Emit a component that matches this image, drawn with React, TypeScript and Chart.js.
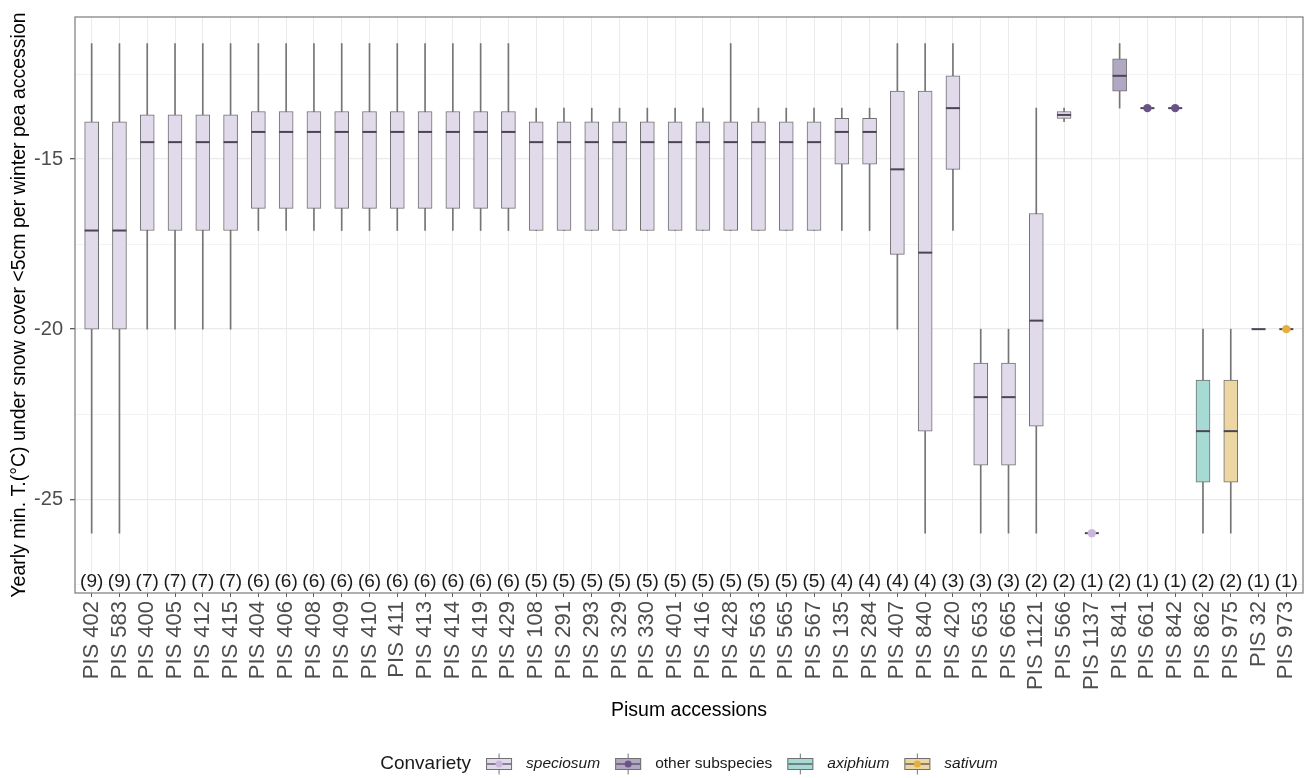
import React, { useEffect, useRef } from 'react';
import { Chart, registerables } from 'chart.js';

Chart.register(...registerables);

const FONT = "'Liberation Sans', Arial, Helvetica, sans-serif";

const accessions = [
  'PIS 402', 'PIS 583', 'PIS 400', 'PIS 405', 'PIS 412', 'PIS 415', 'PIS 404', 'PIS 406', 'PIS 408', 'PIS 409',
  'PIS 410', 'PIS 411', 'PIS 413', 'PIS 414', 'PIS 419', 'PIS 429', 'PIS 108', 'PIS 291', 'PIS 293', 'PIS 329',
  'PIS 330', 'PIS 401', 'PIS 416', 'PIS 428', 'PIS 563', 'PIS 565', 'PIS 567', 'PIS 135', 'PIS 284', 'PIS 407',
  'PIS 840', 'PIS 420', 'PIS 653', 'PIS 665', 'PIS 1121', 'PIS 566', 'PIS 1137', 'PIS 841', 'PIS 661', 'PIS 842',
  'PIS 862', 'PIS 975', 'PIS 32', 'PIS 973',
];

const counts = [
  9, 9, 7, 7, 7, 7, 6, 6, 6, 6,
  6, 6, 6, 6, 6, 6, 5, 5, 5, 5,
  5, 5, 5, 5, 5, 5, 5, 4, 4, 4,
  4, 3, 3, 3, 2, 2, 1, 2, 1, 1,
  2, 2, 1, 1,
];

const convariety = [
  'speciosum', 'speciosum', 'speciosum', 'speciosum', 'speciosum', 'speciosum', 'speciosum', 'speciosum', 'speciosum', 'speciosum',
  'speciosum', 'speciosum', 'speciosum', 'speciosum', 'speciosum', 'speciosum', 'speciosum', 'speciosum', 'speciosum', 'speciosum',
  'speciosum', 'speciosum', 'speciosum', 'speciosum', 'speciosum', 'speciosum', 'speciosum', 'speciosum', 'speciosum', 'speciosum',
  'speciosum', 'speciosum', 'speciosum', 'speciosum', 'speciosum', 'speciosum', 'speciosum', 'other', 'other', 'other',
  'axiphium', 'sativum', 'axiphium', 'sativum',
];

const whiskerLow = [
  -26, -26, -20, -20, -20, -20, -17.1, -17.1, -17.1, -17.1,
  -17.1, -17.1, -17.1, -17.1, -17.1, -17.1, -17.1, -17.1, -17.1, -17.1,
  -17.1, -17.1, -17.1, -17.1, -17.1, -17.1, -17.1, -17.1, -17.1, -20,
  -26, -17.1, -26, -26, -26, -13.9, -26, -13.5, -13.5, -13.5,
  -26, -26, -20, -20,
];

const q1 = [
  -20, -20, -17.1, -17.1, -17.1, -17.1, -16.45, -16.45, -16.45, -16.45,
  -16.45, -16.45, -16.45, -16.45, -16.45, -16.45, -17.1, -17.1, -17.1, -17.1,
  -17.1, -17.1, -17.1, -17.1, -17.1, -17.1, -17.1, -15.15, -15.15, -17.8,
  -23, -15.3, -24, -24, -22.85, -13.8, -26, -13.0, -13.5, -13.5,
  -24.5, -24.5, -20, -20,
];

const median = [
  -17.1, -17.1, -14.5, -14.5, -14.5, -14.5, -14.2, -14.2, -14.2, -14.2,
  -14.2, -14.2, -14.2, -14.2, -14.2, -14.2, -14.5, -14.5, -14.5, -14.5,
  -14.5, -14.5, -14.5, -14.5, -14.5, -14.5, -14.5, -14.2, -14.2, -15.3,
  -17.75, -13.5, -22, -22, -19.75, -13.7, -26, -12.55, -13.5, -13.5,
  -23, -23, -20, -20,
];

const q3 = [
  -13.9, -13.9, -13.7, -13.7, -13.7, -13.7, -13.6, -13.6, -13.6, -13.6,
  -13.6, -13.6, -13.6, -13.6, -13.6, -13.6, -13.9, -13.9, -13.9, -13.9,
  -13.9, -13.9, -13.9, -13.9, -13.9, -13.9, -13.9, -13.8, -13.8, -13.0,
  -13.0, -12.55, -21, -21, -16.6, -13.6, -26, -12.05, -13.5, -13.5,
  -21.5, -21.5, -20, -20,
];

const whiskerHigh = [
  -11.6, -11.6, -11.6, -11.6, -11.6, -11.6, -11.6, -11.6, -11.6, -11.6,
  -11.6, -11.6, -11.6, -11.6, -11.6, -11.6, -13.5, -13.5, -13.5, -13.5,
  -13.5, -13.5, -13.5, -11.6, -13.5, -13.5, -13.5, -13.5, -13.5, -11.6,
  -11.6, -11.6, -20, -20, -13.5, -13.5, -26, -11.6, -13.5, -13.5,
  -20, -20, -20, -20,
];

const yTicks = [-27.5, -25, -22.5, -20, -17.5, -15, -12.5];
const yMin = -27.76;
const yMax = -10.82;

const legendGroups = ['speciosum', 'other', 'axiphium', 'sativum'];
const legendLabels = ['speciosum', 'other subspecies', 'axiphium', 'sativum'];
const legendItalic = [true, false, true, true];

const groupFill: Record<string, string> = {
  speciosum: '#E0DAEA',
  other: '#B3A8C3',
  axiphium: '#A5DBD3',
  sativum: '#ECD6A4',
};
const groupDot: Record<string, string | null> = {
  speciosum: '#C9B7DE',
  other: '#6A5487',
  axiphium: null,
  sativum: '#E3B03C',
};

const BOX_BORDER = '#707070';
const WHISKER = '#757575';
const MEDIAN = '#4C4456';

const panelPlugin = {
  id: 'panelExtras',
  afterDatasetsDraw(chart: any) {
    const { ctx, chartArea } = chart;
    const xs = chart.scales.x;
    ctx.save();
    // count labels
    ctx.font = `19px ${FONT}`;
    ctx.fillStyle = '#1A1A1A';
    ctx.textAlign = 'center';
    ctx.textBaseline = 'middle';
    counts.forEach((n, i) => {
      ctx.fillText(`(${n})`, xs.getPixelForValue(i), 582);
    });
    // panel border
    ctx.strokeStyle = '#7A7A7A';
    ctx.lineWidth = 1.2;
    ctx.strokeRect(chartArea.left, chartArea.top, chartArea.right - chartArea.left, chartArea.bottom - chartArea.top);
    ctx.restore();
  },
  afterDraw(chart: any) {
    const { ctx, chartArea } = chart;
    const cx = (chartArea.left + chartArea.right) / 2;
    const cy = 764;
    ctx.save();
    const titleFont = `19px ${FONT}`;
    const itemFont = (k: number) => `${legendItalic[k] ? 'italic ' : ''}15.5px ${FONT}`;
    const keyW = 26;
    const gapKT = 14;
    const gapTK = 15;
    ctx.font = titleFont;
    const tw = ctx.measureText('Convariety').width;
    const widths: number[] = [];
    let total = tw;
    legendLabels.forEach((lab, k) => {
      ctx.font = itemFont(k);
      const w = ctx.measureText(lab).width;
      widths.push(w);
      total += gapTK + keyW + gapKT + w;
    });
    let x = cx - total / 2;
    ctx.textBaseline = 'middle';
    ctx.textAlign = 'left';
    ctx.fillStyle = '#1A1A1A';
    ctx.font = titleFont;
    ctx.fillText('Convariety', x, cy);
    x += tw;
    legendGroups.forEach((g, k) => {
      x += gapTK;
      const kx = x;
      const mid = kx + keyW / 2;
      // whiskers
      ctx.strokeStyle = WHISKER;
      ctx.lineWidth = 1;
      ctx.beginPath();
      ctx.moveTo(mid, cy - 10.5);
      ctx.lineTo(mid, cy - 6);
      ctx.moveTo(mid, cy + 6);
      ctx.lineTo(mid, cy + 10.5);
      ctx.stroke();
      // box
      ctx.fillStyle = groupFill[g];
      ctx.fillRect(kx, cy - 6, keyW, 12);
      ctx.strokeStyle = BOX_BORDER;
      ctx.strokeRect(kx + 0.5, cy - 5.5, keyW - 1, 11);
      // median
      ctx.strokeStyle = MEDIAN;
      ctx.lineWidth = 1.2;
      ctx.beginPath();
      ctx.moveTo(kx + 1, cy);
      ctx.lineTo(kx + keyW - 1, cy);
      ctx.stroke();
      const dot = groupDot[g];
      if (dot) {
        ctx.fillStyle = dot;
        ctx.beginPath();
        ctx.arc(mid, cy, 3.5, 0, Math.PI * 2);
        ctx.fill();
      }
      x += keyW + gapKT;
      ctx.fillStyle = '#1A1A1A';
      ctx.font = itemFont(k);
      ctx.fillText(legendLabels[k], x, cy);
      x += widths[k];
    });
    ctx.restore();
  },
};

export default function App() {
  const canvasRef = useRef<HTMLCanvasElement | null>(null);

  useEffect(() => {
    const canvas = canvasRef.current;
    if (!canvas) return;
    const idx = accessions.map((_, i) => i);
    const multi = idx.filter((i) => counts[i] > 1);
    const single = idx.filter((i) => counts[i] === 1 && groupDot[convariety[i]]);

    const chart = new Chart(canvas, {
      type: 'bar',
      data: {
        datasets: [
          {
            type: 'bar',
            label: 'whiskers',
            data: multi.map((i) => ({ x: i, y: [whiskerLow[i], whiskerHigh[i]] })),
            backgroundColor: WHISKER,
            borderWidth: 0,
            barThickness: 1,
            grouped: false,
            order: 4,
          } as any,
          {
            type: 'bar',
            label: 'boxes',
            data: multi.map((i) => ({ x: i, y: [q1[i], q3[i]] })),
            backgroundColor: multi.map((i) => groupFill[convariety[i]]),
            borderColor: BOX_BORDER,
            borderWidth: 1,
            borderSkipped: false,
            barThickness: 14,
            grouped: false,
            order: 3,
          } as any,
          {
            type: 'scatter',
            label: 'medians',
            data: idx.map((i) => ({ x: i, y: median[i] })),
            pointStyle: 'line',
            pointRadius: 7,
            pointBorderWidth: 2,
            pointBorderColor: MEDIAN,
            pointHoverRadius: 7,
            order: 2,
          } as any,
          {
            type: 'scatter',
            label: 'single',
            data: single.map((i) => ({ x: i, y: median[i] })),
            pointStyle: 'circle',
            pointRadius: 4.2,
            pointBorderWidth: 0,
            pointBackgroundColor: single.map((i) => groupDot[convariety[i]] as string),
            order: 1,
          } as any,
        ],
      },
      options: {
        responsive: false,
        animation: false,
        devicePixelRatio: 1,
        events: [],
        layout: { padding: { left: 0, top: 17, right: 10, bottom: 50 } },
        plugins: {
          legend: { display: false },
          tooltip: { enabled: false },
        },
        scales: {
          x: {
            type: 'linear',
            min: -0.6,
            max: 43.6,
            offset: false,
            afterBuildTicks: (s: any) => {
              s.ticks = accessions.map((_, i) => ({ value: i }));
            },
            afterFit: (s: any) => {
              s.height = 135;
              s.paddingLeft = 0;
              s.paddingRight = 0;
            },
            ticks: {
              autoSkip: false,
              minRotation: 90,
              maxRotation: 90,
              padding: 4,
              color: '#4D4D4D',
              font: { family: FONT, size: 22 },
              callback: (v: any) => accessions[Math.round(Number(v))] ?? '',
            },
            grid: {
              offset: false,
              color: '#EBEBEB',
              lineWidth: 1,
              drawTicks: true,
              tickLength: 4,
              tickColor: '#5A5A5A',
            },
            border: { display: false },
            title: {
              display: true,
              text: 'Pisum accessions',
              color: '#000000',
              font: { family: FONT, size: 19.5 },
              padding: { top: 0, bottom: 6 },
            },
          } as any,
          y: {
            type: 'linear',
            min: yMin,
            max: yMax,
            afterBuildTicks: (s: any) => {
              s.ticks = yTicks.map((v) => ({ value: v }));
            },
            afterFit: (s: any) => {
              s.width = 75;
              s.paddingTop = 0;
              s.paddingBottom = 0;
            },
            ticks: {
              padding: 7,
              color: '#4D4D4D',
              font: { family: FONT, size: 20 },
              callback: (v: any) => (Number(v) % 5 === 0 ? String(v) : ''),
            },
            grid: {
              color: (c: any) => (c.tick && c.tick.value % 5 === 0 ? '#EBEBEB' : '#F3F3F3'),
              lineWidth: (c: any) => (c.tick && c.tick.value % 5 === 0 ? 1.3 : 1),
              drawTicks: true,
              tickLength: 5,
              tickColor: (c: any) => (c.tick && c.tick.value % 5 === 0 ? '#5A5A5A' : 'rgba(0,0,0,0)'),
            },
            border: { display: false },
            title: {
              display: true,
              text: 'Yearly min. T.(°C) under snow cover <5cm per winter pea accession',
              color: '#000000',
              font: { family: FONT, size: 19.5 },
              padding: { top: 8, bottom: 0 },
            },
          } as any,
        },
      },
      plugins: [panelPlugin as any],
    });

    return () => {
      chart.destroy();
    };
  }, []);

  return (
    <div style={{ position: 'fixed', left: 0, top: 0, width: 1313, height: 778, background: '#ffffff' }}>
      <canvas ref={canvasRef} width={1313} height={778} style={{ display: 'block' }} />
    </div>
  );
}
